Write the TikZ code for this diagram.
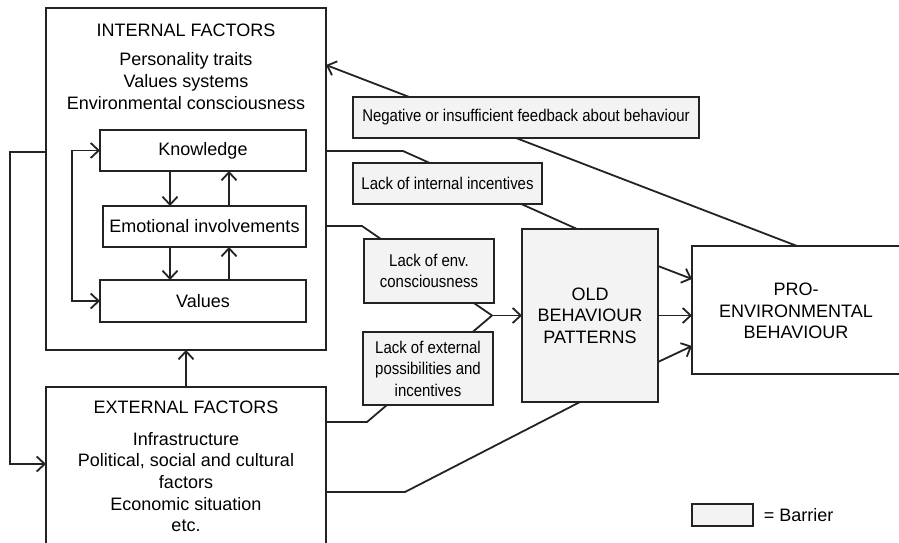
\documentclass[tikz,border=0pt]{standalone}
\usepackage{fontspec}
\setmainfont{Liberation Sans}
\newfontfamily\barfont[FakeStretch=0.88]{Liberation Sans}
\usetikzlibrary{arrows.meta,calc,backgrounds}
\definecolor{barfill}{RGB}{242,243,242}
\definecolor{ink}{RGB}{35,35,35}
\begin{document}
\begin{tikzpicture}[x=1pt,y=-1pt, line width=1.8pt, color=ink,
  >={Straight Barb[length=8pt,width=15pt]},
  box/.style={draw=ink, line width=1.6pt, inner sep=0pt, outer sep=0pt},
  txt/.style={align=center, font=\fontsize{18}{21.7}\selectfont, inner sep=0pt, text=black},
  bar/.style={box, fill=barfill, align=center, text=black, font=\barfont\fontsize{17}{21.5}\selectfont},
  conn/.style={draw=ink, line width=1.8pt}
]
\useasboundingbox (0,0) rectangle (899,543);
\clip (0,0) rectangle (899,543);

% main boxes
\node[box, minimum width=280pt, minimum height=342pt] (int) at (186,179) {};
\node[box, minimum width=280pt, minimum height=180pt] (ext) at (186,477) {};
\node[box, txt, minimum width=206pt, minimum height=41pt] (kn) at (203,150.5) {Knowledge};
\node[box, txt, minimum width=203pt, minimum height=41pt] (em) at (204.5,226.5) {Emotional involvements};
\node[box, txt, minimum width=206pt, minimum height=42pt] (val) at (203,301) {Values};
\node[box, txt, fill=barfill, minimum width=136pt, minimum height=173pt] (old) at (590,315.5) {OLD\\BEHAVIOUR\\PATTERNS};
\node[box, minimum width=240pt, minimum height=128pt] (pro) at (812,310) {};
\node[txt] (prot) at (796,311) {PRO-\\ENVIRONMENTAL\\BEHAVIOUR};

% texts
\node[txt] (intt) at (186,30) {INTERNAL FACTORS};
\node[txt] (intl) at (186,81) {Personality traits\\Values systems\\Environmental consciousness};
\node[txt] (extt) at (186,407) {EXTERNAL FACTORS};
\node[txt] (extl) at (186,482) {Infrastructure\\Political, social and cultural\\factors\\Economic situation\\etc.};

% barriers
\node[bar, minimum width=346pt, minimum height=41pt] (neg) at (526,117.5) {Negative or insufficient feedback about behaviour};
\node[bar, minimum width=189pt, minimum height=41pt] (lint) at (447.5,183.5) {Lack of internal incentives};
\node[bar, minimum width=130pt, minimum height=64pt] (lenv) at (429,271) {Lack of env.\\consciousness};
\node[bar, minimum width=130pt, minimum height=73pt] (lext) at (428,368.5) {Lack of external\\possibilities and\\incentives};

% legend
\node[bar, minimum width=61pt, minimum height=22pt] (leg) at (722.5,515) {};
\node[txt, anchor=west] (legt) at (763,515) {= Barrier};

% inner arrows
\coordinate (xd) at (170,0);
\coordinate (xu) at (229,0);
\draw[conn,->] (kn.south -| xd) -- (em.north -| xd);
\draw[conn,->] (em.north -| xu) -- (kn.south -| xu);
\draw[conn,->] (em.south -| xd) -- (val.north -| xd);
\draw[conn,->] (val.north -| xu) -- (em.south -| xu);
\draw[conn,<->] (kn.west) -- ++(-28,0) |- (val.west);

% outer loop
\coordinate (o1) at (10,152);
\draw[conn,->] (int.west |- o1) -- (o1) |- ($(ext.west)+(0,-13)$);
\draw[conn,->] (ext.north) -- (int.south);

% connectors behind barriers
\coordinate (b1) at (403,151);
\coordinate (b2) at (362,226);
\coordinate (j) at (492,315.5);
\coordinate (b3) at (367,422);
\coordinate (b4) at (405,492);
\begin{scope}[on background layer]
\draw[conn] (int.east |- b1) -- (b1) -- ($(old.north west)+(55,0)$);
\draw[conn] (int.east |- b2) -- (b2) -- (j);
\draw[conn] (ext.east |- b3) -- (b3) -- (j);
\draw[conn] (ext.east |- b4) -- (b4) -- ($(old.south west)+(58,0)$);
\draw[conn,->,>={Straight Barb[length=8pt,width=15pt]}] ($(pro.north west)+(105,0)$) -- ($(int.north east)+(0,57)$);
\end{scope}
\draw[conn,->] (j) -- (old.west);

% old -> pro
\draw[conn,->] ($(old.east)+(0,-49.5)$) -- ($(pro.west)+(0,-31)$);
\draw[conn,->] (old.east) -- (old.east -| pro.west);
\draw[conn,->] ($(old.east)+(0,46.5)$) -- ($(pro.west)+(0,36)$);
\end{tikzpicture}
\end{document}
